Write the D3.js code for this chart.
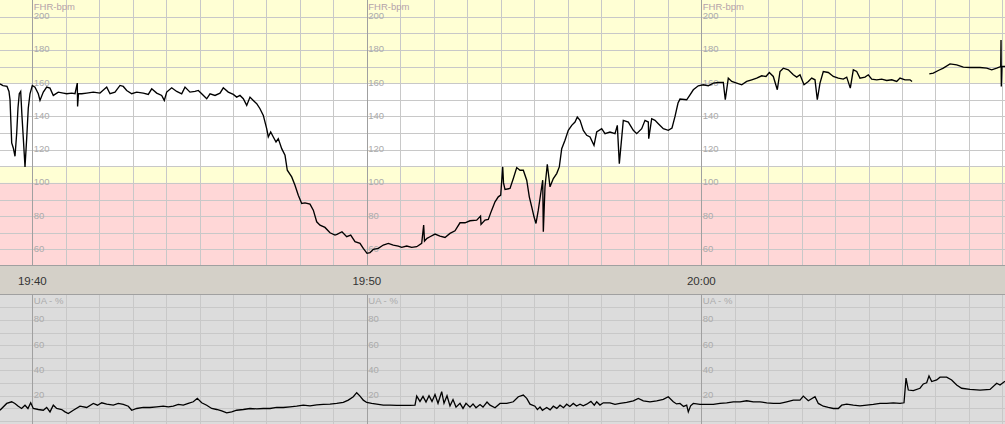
<!DOCTYPE html>
<html><head><meta charset="utf-8">
<script src="https://cdn.jsdelivr.net/npm/d3@7"></script>
<style>
html,body{margin:0;padding:0;background:#fff;overflow:hidden}
svg{display:block}
text{font-family:"Liberation Sans",Arial,sans-serif}
</style></head><body>
<svg id="c" width="1005" height="424"></svg>
<script>
// ---- data (minutes since 19:40, value) ----
const timeLabels = ["19:40","19:50","20:00"];
const majorMinutes = [0,10,20];
const fhrTicks = [200,180,160,140,120,100,80,60];
const uaTicks = [80,60,40,20];
const fhrBandLimits = [[160,210],[110,160],[100,110],[50,100]];
const fhrTitle = "FHR-bpm";
const uaTitle = "UA - %";

const fhrPoints = [
[-0.966,159.5],[-0.876,158.5],[-0.756,158],[-0.697,155],[-0.666,150],[-0.616,124],[-0.568,121],[-0.517,116],
[-0.466,130],[-0.428,145],[-0.389,153.6],[-0.347,155],[-0.308,140],[-0.269,127],[-0.218,109.6],[-0.167,127],
[-0.120,145],[-0.069,153.6],[0,158.6],[0.081,157.6],[0.179,153.6],[0.230,149.6],[0.329,154.6],[0.430,157.6],
[0.529,157],[0.628,152.6],[0.777,154.6],[0.927,154],[1.028,153.6],[1.178,154],[1.277,153.6],[1.345,160],
[1.354,146],[1.381,153.6],[1.477,153.6],[1.626,154],[1.824,154.6],[2.024,154],[2.224,157.6],[2.323,153.6],
[2.472,154.6],[2.622,158.6],[2.720,158],[2.822,155.6],[2.972,153.6],[3.121,154.6],[3.318,154],[3.468,153.2],
[3.570,156.6],[3.719,154],[3.868,152.6],[3.946,149.6],[4.018,154.6],[4.167,157.2],[4.317,155],[4.466,153.6],
[4.565,157.6],[4.714,154.6],[4.864,155],[4.963,155.6],[5.064,153.6],[5.214,150.6],[5.313,153.6],[5.462,152.6],
[5.612,154],[5.710,157.2],[5.859,154.6],[6.009,153.2],[6.110,151.6],[6.209,152.6],[6.308,150.6],[6.410,146.6],
[6.508,151.6],[6.607,149.6],[6.709,147.6],[6.807,144.6],[6.906,140.6],[7.007,132.6],[7.055,127.6],[7.127,130.6],
[7.205,127.6],[7.286,124.6],[7.354,126.6],[7.456,120.6],[7.555,116.6],[7.623,107.6],[7.755,103.6],[7.853,98.6],
[7.952,92.6],[8.054,87.6],[8.152,88],[8.302,87.2],[8.401,83.6],[8.502,76.6],[8.601,74.6],[8.750,73.2],
[8.900,70],[9.049,68.6],[9.109,69],[9.258,70.6],[9.399,67.6],[9.519,68.6],[9.647,64.6],[9.797,63.6],
[9.895,60.6],[10.006,57.6],[10.096,58],[10.194,60],[10.344,60.6],[10.493,62.6],[10.643,63.6],[10.792,62.6],
[10.942,62],[11.043,61.2],[11.193,62],[11.342,61.2],[11.492,61.6],[11.641,63.6],[11.700,74.6],[11.725,65],
[11.800,66.6],[11.889,67.6],[12.039,69.2],[12.188,68],[12.338,67.2],[12.487,69.6],[12.637,71.2],[12.786,76],
[12.936,76],[13.085,77.2],[13.286,77.6],[13.400,80],[13.415,75],[13.533,77.6],[13.632,78],[13.734,83.6],
[13.833,88.6],[13.931,91.6],[14.003,92.6],[14.063,109.6],[14.087,100],[14.132,96],[14.281,96.6],[14.380,102.6],
[14.482,109.2],[14.580,107.6],[14.679,107.6],[14.781,101.6],[14.858,91.6],[14.930,85.6],[14.999,79.6],[15.058,75.6],
[15.127,83.6],[15.199,93.6],[15.259,101.6],[15.277,70.6],[15.327,97.6],[15.396,111.2],[15.477,97.6],[15.576,102.6],
[15.677,105.6],[15.755,109.6],[15.827,120.6],[15.925,125.6],[16.024,131.6],[16.126,134.6],[16.224,136.6],[16.293,139.6],
[16.374,137.6],[16.473,131.6],[16.574,128.6],[16.673,127.6],[16.792,122.6],[16.873,130.6],[17.022,132.6],[17.121,129.6],
[17.270,130.6],[17.420,129.6],[17.489,134.6],[17.549,111.6],[17.668,137.6],[17.818,136.6],[17.967,131.6],[18.069,129.6],
[18.218,132.6],[18.317,137.6],[18.416,136.6],[18.428,126.6],[18.517,138.6],[18.616,137.6],[18.715,135.6],[18.864,132.6],
[19.013,131.6],[19.124,133],[19.214,140],[19.304,148],[19.363,150.4],[19.563,150],[19.662,153],[19.761,156],
[19.910,158.4],[20.060,159],[20.209,158.4],[20.359,160],[20.508,160.4],[20.658,160.4],[20.717,150],[20.807,163],
[20.909,161],[21.058,160],[21.208,159],[21.357,161],[21.507,162],[21.656,163],[21.806,164.4],[21.934,164],
[22.033,166.4],[22.152,164],[22.272,156],[22.353,167],[22.451,169],[22.601,168],[22.751,165],[22.852,163.6],
[22.951,165],[23.070,159],[23.199,161],[23.300,163],[23.399,162],[23.468,150],[23.548,160],[23.647,167],
[23.797,166.4],[23.946,164],[24.096,163],[24.245,162.4],[24.347,163.6],[24.454,157],[24.544,168],[24.646,167],
[24.744,163],[24.894,163.6],[24.993,165],[25.094,162.4],[25.244,162],[25.393,162.4],[25.543,161.6],[25.692,162],
[25.842,161],[25.940,163],[26.090,162],[26.240,162],[26.299,161],[26.550,null],
[26.816,165.6],[26.936,166],[27.085,167.6],[27.235,169],[27.435,171.6],[27.635,171],[27.833,169.6],[28.033,169.4],
[28.332,169.4],[28.532,169],[28.682,168],[28.831,169],[28.951,170],[28.960,186],[28.969,158],[28.989,170],[29.079,170]
];

const uaPoints = [
[-0.966,8.5],[-0.765,13.9],[-0.616,15.2],[-0.520,13.9],[-0.419,11.7],[-0.320,9.9],[-0.218,12.5],[-0.130,9.9],
[-0.048,14.4],[0.030,9.9],[0.179,9.1],[0.329,8.5],[0.430,10.7],[0.529,7.2],[0.628,12.5],[0.730,9.9],
[0.879,9.1],[0.978,7.2],[1.076,5.9],[1.226,8.5],[1.426,11.7],[1.626,10.7],[1.824,13.9],[1.950,12.5],
[2.075,14.4],[2.224,13.3],[2.422,12.5],[2.571,13.9],[2.720,13.1],[2.870,11.7],[2.972,8.5],[3.121,9.9],
[3.318,10.7],[3.519,10.7],[3.719,11.2],[3.916,11.7],[4.066,11.2],[4.215,11.7],[4.365,13.1],[4.514,12.5],
[4.664,13.9],[4.813,15.2],[4.933,17.9],[5.064,14.4],[5.214,12.5],[5.363,9.9],[5.513,9.1],[5.662,8.0],
[5.812,6.4],[5.961,7.2],[6.110,8.5],[6.308,9.1],[6.508,9.9],[6.709,9.6],[6.906,9.9],[7.106,9.9],
[7.306,10.7],[7.504,10.7],[7.704,11.2],[7.904,11.7],[8.102,12.5],[8.302,12.0],[8.502,12.8],[8.700,13.1],
[8.900,13.3],[9.100,13.9],[9.297,14.7],[9.447,16.5],[9.596,19.2],[9.698,22.4],[9.797,19.7],[9.895,16.5],
[9.997,14.7],[10.146,13.9],[10.296,13.3],[10.493,12.5],[10.693,12.5],[10.894,12.3],[11.091,12.3],[11.291,12.3],
[11.441,12.5],[11.492,19.7],[11.590,15.5],[11.680,19.5],[11.770,15],[11.860,20],[11.949,15.5],[12.039,21],
[12.129,14],[12.239,23.2],[12.308,14],[12.398,20],[12.487,12],[12.577,17],[12.667,11],[12.786,14],
[12.876,10],[12.966,14],[13.085,11],[13.175,13.5],[13.265,10.5],[13.384,13],[13.474,11],[13.594,15],
[13.683,12.5],[13.833,10.5],[13.982,13.9],[14.182,13.9],[14.380,15.2],[14.529,19.2],[14.679,20.5],[14.781,17.9],
[14.879,13.3],[15.028,11.7],[15.100,9],[15.178,11],[15.250,8.5],[15.378,10.7],[15.480,8.8],[15.576,11.7],
[15.680,10],[15.776,12.5],[15.880,10.5],[15.976,13.3],[16.070,11.5],[16.173,13.9],[16.270,11.8],[16.374,13.3],
[16.470,12],[16.574,13.3],[16.700,15.5],[16.800,12.5],[16.873,15.2],[16.970,12.6],[17.070,14.4],[17.270,14.4],
[17.420,13.2],[17.569,13.9],[17.769,14.7],[17.967,16],[18.117,17.9],[18.266,16],[18.466,15.2],[18.667,16],
[18.864,17.1],[19.013,19.2],[19.163,15.2],[19.260,13.5],[19.363,13.9],[19.470,11.5],[19.563,12.5],[19.611,7.2],
[19.680,12],[19.761,13.9],[19.961,13.1],[20.161,13.1],[20.359,13.1],[20.559,13.9],[20.759,14.4],[20.957,15.2],
[21.157,15.2],[21.357,16],[21.555,15.2],[21.755,15.2],[21.955,14.4],[22.152,13.9],[22.353,13.9],[22.553,15.2],
[22.751,16.5],[22.951,16.5],[23.049,19.7],[23.199,16],[23.399,19.2],[23.498,13.9],[23.647,11.7],[23.797,10.7],
[23.946,9.9],[24.096,9.9],[24.197,12.5],[24.347,13.3],[24.544,12.5],[24.744,12],[24.945,12.5],[25.142,13.1],
[25.343,13.9],[25.543,13.9],[25.740,14.4],[25.940,13.9],[26.060,14.4],[26.120,33.9],[26.189,24.5],[26.338,24],
[26.538,25.9],[26.637,29.3],[26.738,30.2],[26.807,35.7],[26.888,31.2],[27.037,32.5],[27.136,34.7],[27.335,34.7],
[27.484,32.5],[27.634,28.5],[27.783,25.9],[28.033,25],[28.332,24.5],[28.632,25],[28.831,29.9],[28.930,28.5],[29.079,31.5]
];

// ---- drawing ----
const W = 1005, H = 424;
const svg = d3.select("#c");
const x = d3.scaleLinear().domain([-0.9656, 29.079]).range([0, W]);
const yF = d3.scaleLinear().domain([50, 210]).range([266, 0]);
const yU = d3.scaleLinear().domain([0, 100]).range([421, 294.6]);
const crisp = v => Math.round(v) + 0.5;

const bandColors = ["#ffffd4", "#ffffff", "#ffffd4", "#ffd7d7"];
const gF = svg.append("g");
gF.selectAll("rect.band").data(fhrBandLimits).join("rect")
  .attr("x", 0).attr("width", W)
  .attr("y", d => yF(d[1])).attr("height", d => yF(d[0]) - yF(d[1]))
  .attr("fill", (d, i) => bandColors[i]);

// time strip
svg.append("rect").attr("x", 0).attr("width", W).attr("y", yF(50)).attr("height", yU(100) - yF(50)).attr("fill", "#d4d0c8");
// UA background
svg.append("rect").attr("x", 0).attr("width", W).attr("y", yU(100)).attr("height", H - yU(100)).attr("fill", "#dcdcdc");

const minutes = d3.range(0, 30).filter(m => x(m) <= W);
const minorMin = minutes.filter(m => !majorMinutes.includes(m));

// FHR grid
const fhrGridVals = d3.range(60, 210, 10);
gF.selectAll("line.h").data(fhrGridVals).join("line")
  .attr("x1", 0).attr("x2", W).attr("y1", d => crisp(yF(d))).attr("y2", d => crisp(yF(d)))
  .attr("stroke", "#c8c8c8").attr("stroke-width", 1);
gF.selectAll("line.v").data(minorMin).join("line")
  .attr("y1", 0).attr("y2", yF(50)).attr("x1", d => crisp(x(d))).attr("x2", d => crisp(x(d)))
  .attr("stroke", "#c8c8c8");
gF.selectAll("line.vm").data(majorMinutes).join("line")
  .attr("y1", 0).attr("y2", yF(50)).attr("x1", d => crisp(x(d))).attr("x2", d => crisp(x(d)))
  .attr("stroke", "#a0a0a0");

// UA grid
const gU = svg.append("g");
const uaGridVals = d3.range(0, 100, 10);
gU.selectAll("line.h").data(uaGridVals).join("line")
  .attr("x1", 0).attr("x2", W).attr("y1", d => crisp(yU(d))).attr("y2", d => crisp(yU(d)))
  .attr("stroke", "#c8c8c8");
gU.selectAll("line.v").data(minorMin).join("line")
  .attr("y1", yU(100)).attr("y2", H).attr("x1", d => crisp(x(d))).attr("x2", d => crisp(x(d)))
  .attr("stroke", "#c8c8c8");
gU.selectAll("line.vm").data(majorMinutes).join("line")
  .attr("y1", yU(100)).attr("y2", H).attr("x1", d => crisp(x(d))).attr("x2", d => crisp(x(d)))
  .attr("stroke", "#a0a0a0");

// strip borders
[yF(50), yU(100)].forEach(v => {
  svg.append("line").attr("x1", 0).attr("x2", W).attr("y1", crisp(v) - 1).attr("y2", crisp(v) - 1)
    .attr("stroke", "#a0a0a0");
});

// labels
majorMinutes.forEach((m, i) => {
  const lx = x(m) + 1.5;
  svg.append("text").attr("x", lx).attr("y", 10).attr("font-size", 9.5).attr("fill", "#b4a2aa").text(fhrTitle);
  fhrTicks.forEach(t => {
    svg.append("text").attr("x", lx).attr("y", yF(t) + 2.6).attr("font-size", 9.5).attr("fill", "#ababab").text(t);
  });
  svg.append("text").attr("x", lx).attr("y", yU(100) + 9).attr("font-size", 9.5).attr("fill", "#ababab").text(uaTitle);
  uaTicks.forEach(t => {
    svg.append("text").attr("x", lx).attr("y", yU(t) + 2.4).attr("font-size", 9.5).attr("fill", "#ababab").text(t);
  });
  svg.append("text").attr("x", x(m)).attr("y", 284.5).attr("text-anchor", "middle")
    .attr("font-size", 11.5).attr("fill", "#333").text(timeLabels[i]);
});

// traces
const lineF = d3.line().defined(d => d[1] !== null).x(d => x(d[0])).y(d => yF(d[1]));
svg.append("path").datum(fhrPoints).attr("d", lineF).attr("fill", "none")
  .attr("stroke", "#000").attr("stroke-width", 1.35);
const lineU = d3.line().x(d => x(d[0])).y(d => yU(d[1]));
svg.append("path").datum(uaPoints).attr("d", lineU).attr("fill", "none")
  .attr("stroke", "#000").attr("stroke-width", 1.3);
</script></body></html>
